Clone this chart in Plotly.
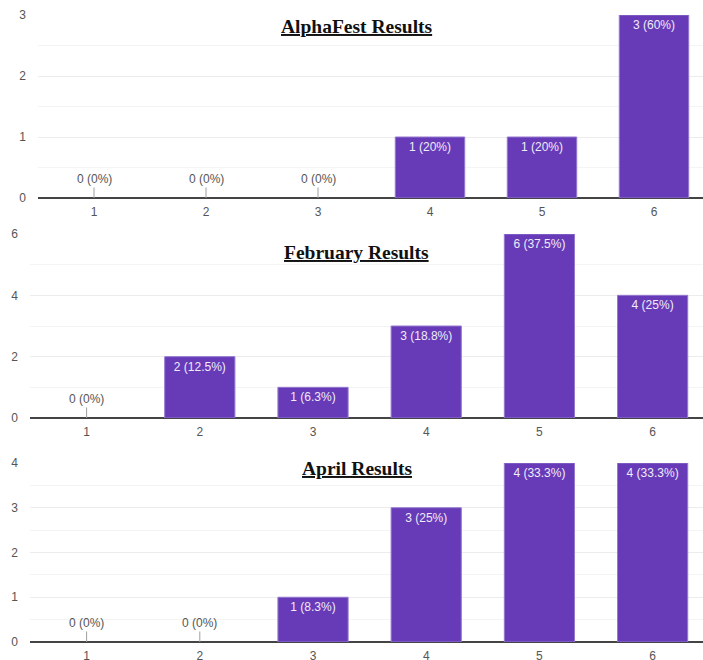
import plotly.graph_objects as go

categories = [1, 2, 3, 4, 5, 6]
titles = ["AlphaFest Results", "February Results", "April Results"]
alpha_counts = [0, 0, 0, 1, 1, 3]
alpha_labels = ["0 (0%)", "0 (0%)", "0 (0%)", "1 (20%)", "1 (20%)", "3 (60%)"]
feb_counts = [0, 2, 1, 3, 6, 4]
feb_labels = ["0 (0%)", "2 (12.5%)", "1 (6.3%)", "3 (18.8%)", "6 (37.5%)", "4 (25%)"]
april_counts = [0, 0, 1, 3, 4, 4]
april_labels = ["0 (0%)", "0 (0%)", "1 (8.3%)", "3 (25%)", "4 (33.3%)", "4 (33.3%)"]

panels = [
    dict(counts=alpha_counts, labels=alpha_labels, ymax=3, dtick=1, minor=0.5,
         xdom=[38/703, 1], ydom=[1-198/660, 1-15/660], xmax=6.4375, ty=26),
    dict(counts=feb_counts, labels=feb_labels, ymax=6, dtick=2, minor=1,
         xdom=[30/703, 1], ydom=[1-418/660, 1-234/660], xmax=6.445, ty=252),
    dict(counts=april_counts, labels=april_labels, ymax=4, dtick=1, minor=0.5,
         xdom=[30/703, 1], ydom=[1-642/660, 1-463/660], xmax=6.445, ty=468),
]

PURPLE = "#673ab7"
FONT = "Liberation Sans, Arial, sans-serif"

fig = go.Figure()
annotations = []
for i, p in enumerate(panels):
    n = "" if i == 0 else str(i + 1)
    xa, ya = "x" + n, "y" + n
    inside = [lab if c > 0 else "" for c, lab in zip(p["counts"], p["labels"])]
    fig.add_trace(go.Bar(
        x=categories, y=p["counts"], text=inside, textposition="inside",
        insidetextanchor="end", textangle=0,
        textfont=dict(family=FONT, size=12, color="#f0ecf8"),
        marker=dict(color=PURPLE,
                    line=dict(color="#9478cf",
                              width=[1 if c > 0 else 0 for c in p["counts"]])),
        width=0.62, xaxis=xa, yaxis=ya, hoverinfo="skip", showlegend=False,
        cliponaxis=False,
    ))
    for c, cnt, lab in zip(categories, p["counts"], p["labels"]):
        if cnt == 0:
            annotations.append(dict(
                x=c, y=0, xref=xa, yref=ya, text=lab, showarrow=True,
                arrowhead=0, arrowwidth=1, arrowcolor="#9e9e9e", ax=0, ay=-19,
                font=dict(family=FONT, size=12, color="#555555"),
            ))
    annotations.append(dict(
        x=357/703, y=1 - p["ty"]/660, xref="paper", yref="paper",
        text="<b><u>" + titles[i] + "</u></b>", showarrow=False,
        xanchor="center", yanchor="middle",
        font=dict(family="Liberation Serif, Times New Roman, serif", size=19.5, color="#111111"),
    ))
    axis_x = dict(domain=p["xdom"], range=[0.5, p["xmax"]], tickmode="array",
                  tickvals=categories, ticktext=[str(c) for c in categories],
                  showgrid=False, zeroline=False, showline=False,
                  ticks="", ticklabelstandoff=5,
                  tickfont=dict(family=FONT, size=12, color="#555555"),
                  anchor=ya, fixedrange=True, automargin=False)
    axis_y = dict(domain=p["ydom"], range=[0, p["ymax"]], dtick=p["dtick"],
                  tick0=0, showgrid=True, gridcolor="#ececec", gridwidth=1,
                  minor=dict(dtick=p["minor"], showgrid=True, gridcolor="#f4f4f4"),
                  zeroline=True, zerolinecolor="#444444", zerolinewidth=1.5,
                  showline=False, ticks="", ticklabelstandoff=11,
                  tickfont=dict(family=FONT, size=12, color="#555555"),
                  anchor=xa, fixedrange=True, automargin=False)
    fig.update_layout(**{"xaxis" + n: axis_x, "yaxis" + n: axis_y})

fig.update_layout(
    width=703, height=660, margin=dict(l=0, r=0, t=0, b=0),
    paper_bgcolor="white", plot_bgcolor="white", bargap=0.38,
    annotations=annotations,
)
fig.write_html("out.html")
